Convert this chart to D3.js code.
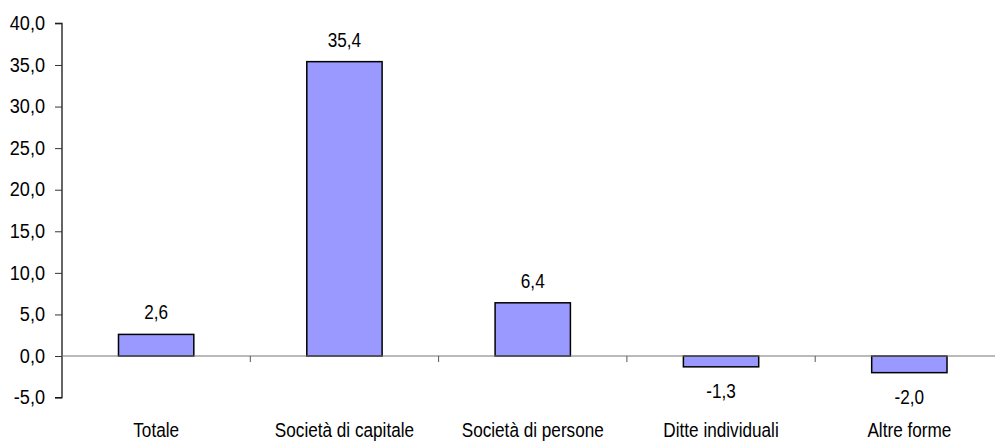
<!DOCTYPE html>
<html><head><meta charset="utf-8">
<script src="https://cdn.jsdelivr.net/npm/d3@7"></script>
<style>body{margin:0;background:#fff}svg{display:block}</style>
</head><body>
<svg id="c" width="995" height="441"></svg>
<script>
const categories = ["Totale","Società di capitale","Società di persone","Ditte individuali","Altre forme"];
const values = [2.6, 35.4, 6.4, -1.3, -2.0];
const yTicks = [-5,0,5,10,15,20,25,30,35,40];

const fmt = v => d3.format(".1f")(v).replace(".", ",").replace("−","-");
const FONT = "'Liberation Sans', Arial, sans-serif";
const FS = 19.5, SX = 0.88, SXT = 0.93;
const svg = d3.select("#c");
const x = d3.scaleBand().domain(categories).range([62, 1003.5]).paddingInner(0.6).paddingOuter(0.3);
const y = d3.scaleLinear().domain([-5, 40]).range([397.6, 23.4]);

// y axis
const ya = svg.append("g").attr("transform","translate(62,0)")
  .call(d3.axisLeft(y).tickValues(yTicks).tickSize(7).tickPadding(10).tickFormat(fmt));
ya.select(".domain").attr("stroke","#000").attr("stroke-width",1.2).attr("d", `M-7,${y(40)}H0V${y(-5)}H-7`);
ya.selectAll(".tick line").attr("stroke","#333");
ya.selectAll("text").attr("font-family",FONT).attr("font-size",FS).attr("fill","#000")
  .attr("x", -17 / SXT).attr("transform", `scale(${SXT},1)`);

// bars
svg.selectAll("rect.bar").data(values).join("rect").attr("class","bar")
  .attr("x",(d,i)=>x(categories[i]))
  .attr("width",x.bandwidth())
  .attr("y",d=>y(Math.max(0,d)))
  .attr("height",d=>Math.abs(y(d)-y(0)))
  .attr("fill","#9999FF").attr("stroke","#000").attr("stroke-width",1.5);

// zero axis with category ticks
const xa = svg.append("g").attr("transform",`translate(0,${y(0)})`);
xa.append("line").attr("x1",62).attr("x2",995).attr("stroke","#777").attr("stroke-width",1.2);
const step = x.step();
const bounds = categories.slice(1).map((c)=> x(c) - (step - x.bandwidth())/2);
xa.selectAll("line.ct").data(bounds).join("line").attr("class","ct")
  .attr("x1",d=>d).attr("x2",d=>d).attr("y1",0).attr("y2",6).attr("stroke","#555");

// category labels
svg.selectAll("text.cat").data(categories).join("text").attr("class","cat")
  .attr("transform",d=>`translate(${x(d)+x.bandwidth()/2},437) scale(${SX},1)`)
  .attr("text-anchor","middle").attr("font-family",FONT).attr("font-size",FS).text(d=>d);

// value labels
svg.selectAll("text.val").data(values).join("text").attr("class","val")
  .attr("transform",(d,i)=>`translate(${x(categories[i])+x.bandwidth()/2},${d>=0 ? y(d)-15 : y(d)+31}) scale(${SX},1)`)
  .attr("text-anchor","middle").attr("font-family",FONT).attr("font-size",FS).text(d=>fmt(d));
</script>
</body></html>
